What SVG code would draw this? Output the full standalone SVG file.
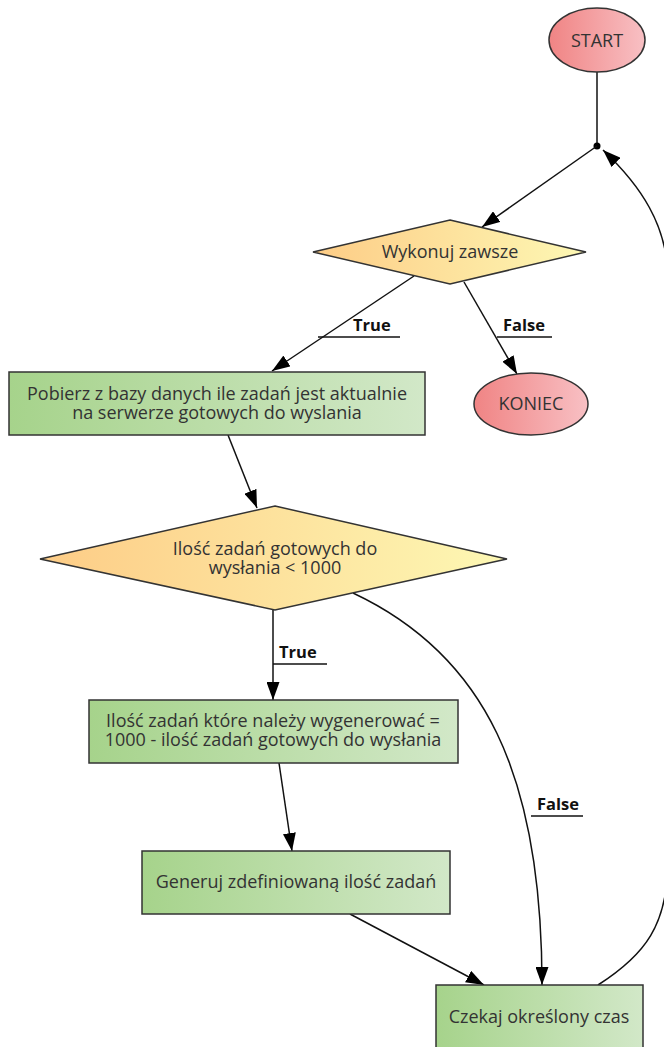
<svg xmlns="http://www.w3.org/2000/svg" width="664" height="1047" viewBox="0 0 664 1047">
<defs>
<linearGradient id="gRed" x1="0" y1="0" x2="1" y2="0"><stop offset="0" stop-color="#f08484"/><stop offset="1" stop-color="#f8c0c4"/></linearGradient>
<linearGradient id="gYel" x1="0" y1="0" x2="1" y2="0"><stop offset="0" stop-color="#fdcc86"/><stop offset="1" stop-color="#fdf8b4"/></linearGradient>
<linearGradient id="gGrn" x1="0" y1="0" x2="1" y2="0"><stop offset="0" stop-color="#a6d38b"/><stop offset="1" stop-color="#d2e8c8"/></linearGradient>
<marker id="arr" viewBox="0 0 18 13" refX="18" refY="6.5" markerWidth="18" markerHeight="13" markerUnits="userSpaceOnUse" orient="auto"><path d="M0,0 L18,6.5 L0,13 z" fill="#000"/></marker>
</defs>
<style>
.n{stroke:#333;stroke-width:1.5}
.t{font-family:"Open Sans","Noto Sans",sans-serif;font-size:18px;fill:#333;text-anchor:middle}
.l{font-family:"Open Sans","Noto Sans",sans-serif;font-size:16.5px;font-weight:bold;fill:#111}
.e{fill:none;stroke:#111;stroke-width:1.5}
.u{stroke:#111;stroke-width:1.5}
</style>
<g id="connectors">
<path class="e" d="M597,72 L597,146"/>
<circle cx="597" cy="146" r="3.5" fill="#000"/>
<path class="e" d="M597,146 L482,227" marker-end="url(#arr)"/>
<path class="e" d="M414,276 L272,371" marker-end="url(#arr)"/>
<line class="u" x1="318" y1="337" x2="400" y2="337"/>
<text class="l" x="353" y="331">True</text>
<path class="e" d="M464,282 L517,374" marker-end="url(#arr)"/>
<line class="u" x1="497" y1="337" x2="552" y2="337"/>
<text class="l" x="503" y="331">False</text>
<path class="e" d="M228,435 L257,508" marker-end="url(#arr)"/>
<path class="e" d="M273,610 L273,700" marker-end="url(#arr)"/>
<line class="u" x1="273" y1="664" x2="327" y2="664"/>
<text class="l" x="279" y="658">True</text>
<path class="e" d="M353,593 C485,655 542,775 542,985" marker-end="url(#arr)"/>
<line class="u" x1="531" y1="816" x2="583" y2="816"/>
<text class="l" x="537" y="810">False</text>
<path class="e" d="M279,763 L292,851" marker-end="url(#arr)"/>
<path class="e" d="M350,914 L484,985" marker-end="url(#arr)"/>
<path class="e" d="M598,985 C645,955 668,925 668,860 L668,280 C668,225 640,185 603,150" marker-end="url(#arr)"/>
</g>
<g id="start"><ellipse class="n" cx="597" cy="40" rx="48" ry="32" fill="url(#gRed)"/><text class="t" x="597" y="47">START</text></g>
<g id="wykonuj"><polygon class="n" points="450,220 586,252 450,284 313,252" fill="url(#gYel)"/><text class="t" x="450" y="258">Wykonuj zawsze</text></g>
<g id="koniec"><ellipse class="n" cx="531" cy="404" rx="57" ry="31" fill="url(#gRed)"/><text class="t" x="531" y="410">KONIEC</text></g>
<g id="pobierz"><rect class="n" x="9" y="372" width="416" height="63" fill="url(#gGrn)"/><text class="t" x="217" y="400">Pobierz z bazy danych ile zadań jest aktualnie</text><text class="t" x="217" y="419">na serwerze gotowych do wyslania</text></g>
<g id="ilosc"><polygon class="n" points="275,506 507,559 275,610 40,559" fill="url(#gYel)"/><text class="t" x="275" y="555">Ilość zadań gotowych do</text><text class="t" x="275" y="574">wysłania &lt; 1000</text></g>
<g id="oblicz"><rect class="n" x="89" y="700" width="369" height="63" fill="url(#gGrn)"/><text class="t" x="273" y="727">Ilość zadań które należy wygenerować =</text><text class="t" x="273" y="746">1000 - ilość zadań gotowych do wysłania</text></g>
<g id="generuj"><rect class="n" x="142" y="851" width="308" height="63" fill="url(#gGrn)"/><text class="t" x="296" y="888">Generuj zdefiniowaną ilość zadań</text></g>
<g id="czekaj"><rect class="n" x="436" y="985" width="207" height="80" fill="url(#gGrn)"/><text class="t" x="539" y="1023">Czekaj określony czas</text></g>
</svg>
